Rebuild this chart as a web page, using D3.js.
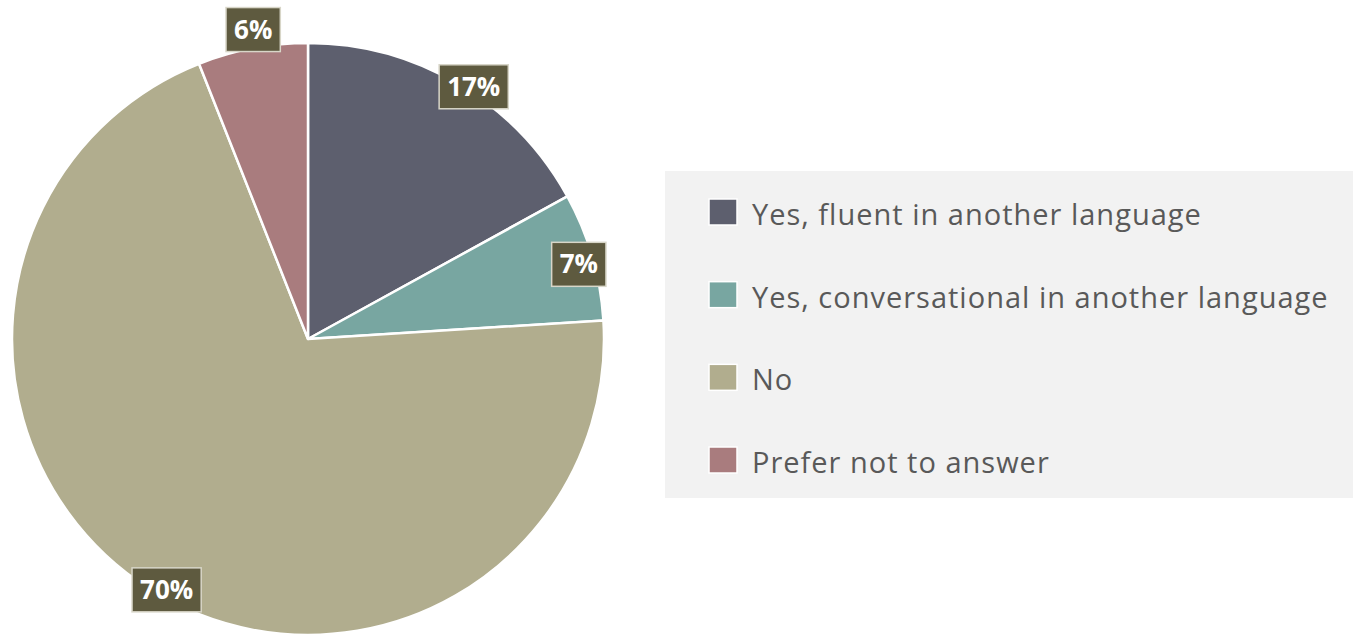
<!DOCTYPE html>
<html>
<head>
<meta charset="utf-8">
<script src="https://cdn.jsdelivr.net/npm/d3@7/dist/d3.min.js"></script>
<style>
  html, body { margin: 0; padding: 0; background: #ffffff; }
  svg { display: block; }
</style>
</head>
<body>
<svg id="chart" width="1353" height="635"></svg>
<script>
// Survey answers: speaks another language?
const categories = [
  "Yes, fluent in another language",
  "Yes, conversational in another language",
  "No",
  "Prefer not to answer"
];
const values = [17, 7, 70, 6];
const colors = ["#5d5f6e", "#78a6a1", "#b1ad8e", "#a97c7e"];

const svg = d3.select("#chart");
const cx = 308, cy = 339, radius = 296;

const pie = d3.pie().sort(null).value(d => d.value);
const arcs = pie(categories.map((c, i) => ({ name: c, value: values[i], color: colors[i] })));

const arc = d3.arc().innerRadius(0).outerRadius(radius);

const g = svg.append("g").attr("transform", `translate(${cx},${cy})`);

g.selectAll("path.slice")
  .data(arcs)
  .enter().append("path")
  .attr("class", "slice")
  .attr("d", arc)
  .attr("fill", d => d.data.color)
  .attr("stroke", "#ffffff")
  .attr("stroke-width", 2.5)
  .attr("stroke-linejoin", "round");

// data labels: dark boxes near the rim
const labelRadius = [300, 282, 290, 314];
const labelShift = [[13, 6], [0, 4], [14, 6], [4, -1]];
const labels = g.selectAll("g.lbl")
  .data(arcs)
  .enter().append("g")
  .attr("class", "lbl")
  .attr("transform", (d, i) => {
    const a = (d.startAngle + d.endAngle) / 2;
    const r = labelRadius[i];
    const x = Math.sin(a) * r + labelShift[i][0];
    const y = -Math.cos(a) * r + labelShift[i][1];
    return `translate(${x},${y})`;
  });

labels.append("text")
  .attr("text-anchor", "middle")
  .attr("y", 9)
  .attr("font-family", "'Open Sans', 'Noto Sans', sans-serif")
  .attr("font-weight", "700")
  .attr("font-size", 26)
  .attr("fill", "#ffffff")
  .text(d => d.data.value + "%");

labels.each(function() {
  const gg = d3.select(this);
  const bb = gg.select("text").node().getBBox();
  gg.insert("rect", "text")
    .attr("x", bb.x - 8)
    .attr("y", -22)
    .attr("width", bb.width + 16)
    .attr("height", 44)
    .attr("fill", "#5e5a3f")
    .attr("stroke", "#d8d6c8")
    .attr("stroke-width", 1.5);
});

// legend panel
const legend = svg.append("g");
legend.append("rect")
  .attr("x", 665).attr("y", 171)
  .attr("width", 688).attr("height", 327)
  .attr("fill", "#f2f2f2");

const rowY = d3.scalePoint().domain(categories).range([212, 460]);

const items = legend.selectAll("g.item")
  .data(arcs)
  .enter().append("g")
  .attr("class", "item")
  .attr("transform", d => `translate(709,${rowY(d.data.name)})`);

items.append("rect")
  .attr("x", 0).attr("y", -13)
  .attr("width", 28).attr("height", 26)
  .attr("fill", d => d.data.color)
  .attr("stroke", "#ffffff")
  .attr("stroke-width", 1.5);

items.append("text")
  .attr("x", 43)
  .attr("y", 13)
  .attr("font-family", "'Open Sans', 'Noto Sans', sans-serif")
  .attr("font-size", 29)
  .attr("letter-spacing", 1)
  .attr("fill", "#595959")
  .text(d => d.data.name);
</script>
</body>
</html>
